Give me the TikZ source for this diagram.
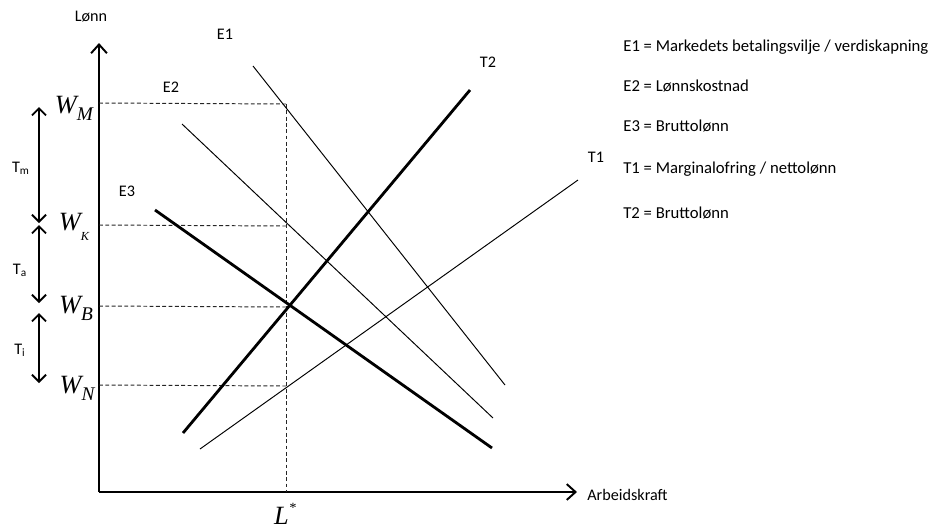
\documentclass[tikz,border=0pt]{standalone}
\usepackage{fontspec}
\setmainfont{Carlito}
\newfontfamily\tms{Liberation Serif}
\usetikzlibrary{arrows.meta}
\begin{document}
\begin{tikzpicture}[x=0.02cm,y=-0.02cm,
  thinline/.style={line width=0.55pt},
  thickline/.style={line width=1.6pt},
  axis/.style={line width=0.8pt,-{Straight Barb[length=5pt,width=9pt,line width=1.1pt]}},
  span/.style={line width=0.8pt,{Straight Barb[length=4pt,width=8pt,line width=1.1pt]}-{Straight Barb[length=4pt,width=8pt,line width=1.1pt]}},
  guide/.style={line width=0.55pt,dash pattern=on 2.2pt off 1.4pt,black!85},
  lbl/.style={font=\fontsize{9.2}{10}\selectfont,inner sep=0pt},
  key/.style={font=\fontsize{9.5}{10}\selectfont,inner sep=0pt,anchor=west},
  wlbl/.style={font=\tms\itshape\fontsize{15}{15}\selectfont,inner sep=0pt}]
\useasboundingbox (0,0) rectangle (931,529);

% axes
\coordinate (O) at (99,492);
\coordinate (ytop) at (99,43);
\coordinate (xend) at (577,492);
\draw[axis] (O) -- (ytop);
\draw[axis] (O) -- (xend);
\node[lbl,anchor=west] (xl) at (587,495) {Arbeidskraft};
\node[lbl] (yl) at (91,17) {Lønn};

% wage levels and L*
\coordinate (wm) at (99,103);  \coordinate (wmr) at (286,104);
\coordinate (wk) at (99,225);  \coordinate (wkr) at (286,226);
\coordinate (wb) at (99,306);  \coordinate (wbr) at (286,307);
\coordinate (wn) at (99,385);  \coordinate (wnr) at (286,386);
\coordinate (lx) at (286,492);
\draw[guide] (wm) -- (wmr);
\draw[guide] (wk) -- (wkr);
\draw[guide] (wb) -- (wbr);
\draw[guide] (wn) -- (wnr);
\draw[guide] (wmr) -- (lx);

\node[wlbl] (WM) at (74,108) {W\raisebox{-4pt}{\fontsize{11}{11}\selectfont M}};
\node[wlbl] (WK) at (74,227) {W\raisebox{-6pt}{\fontsize{7}{7}\selectfont K}};
\node[wlbl] (WB) at (76,308) {W\raisebox{-4pt}{\fontsize{11}{11}\selectfont B}};
\node[wlbl] (WN) at (77,388) {W\raisebox{-4pt}{\fontsize{11}{11}\selectfont N}};
\node[wlbl] (Ls) at (285,514) {L\raisebox{7pt}{\fontsize{8}{8}\selectfont *}};

% tax wedges
\coordinate (m1) at (39,107); \coordinate (m2) at (39,223);
\coordinate (a1) at (39,225); \coordinate (a2) at (39,303);
\coordinate (i1) at (39,313); \coordinate (i2) at (39,383);
\draw[span] (m1) -- (m2);
\draw[span] (a1) -- (a2);
\draw[span] (i1) -- (i2);
\node[lbl] (Tm) at (21,168) {T\textsubscript{m}};
\node[lbl] (Ta) at (20,270) {T\textsubscript{a}};
\node[lbl] (Ti) at (20,350) {T\textsubscript{i}};

% curves
\coordinate (e1a) at (253,66);  \coordinate (e1b) at (505,385);
\coordinate (e2a) at (182,124); \coordinate (e2b) at (493,418);
\coordinate (e3a) at (155,210); \coordinate (e3b) at (492,448);
\coordinate (t2a) at (183,433); \coordinate (t2b) at (470,90);
\coordinate (t1a) at (200,449); \coordinate (t1b) at (578,180);
\draw[thinline] (e1a) -- (e1b);
\draw[thinline] (e2a) -- (e2b);
\draw[thickline] (e3a) -- (e3b);
\draw[thickline] (t2a) -- (t2b);
\draw[thinline] (t1a) -- (t1b);
\node[lbl] (E1) at (225,34) {E1};
\node[lbl] (E2) at (171,87) {E2};
\node[lbl] (E3) at (127,191) {E3};
\node[lbl] (T2) at (488,62) {T2};
\node[lbl] (T1) at (596,157) {T1};

% legend
\node[key] (k1) at (623,47) {E1 = Markedets betalingsvilje / verdiskapning};
\node[key] (k2) at (623,86) {E2 = Lønnskostnad};
\node[key] (k3) at (623,126) {E3 = Bruttolønn};
\node[key] (k4) at (623,169) {T1 = Marginalofring / nettolønn};
\node[key] (k5) at (623,213) {T2 = Bruttolønn};
\end{tikzpicture}
\end{document}
